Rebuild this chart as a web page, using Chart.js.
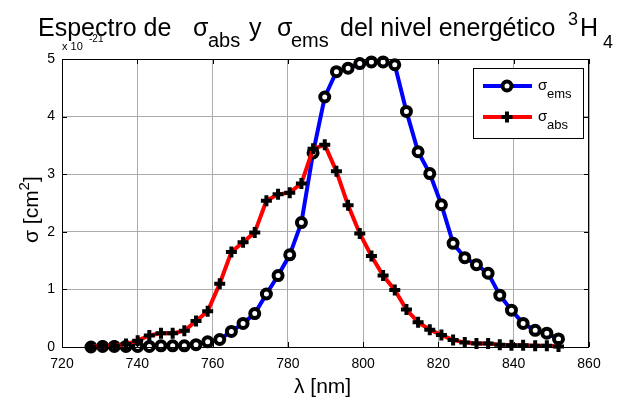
<!DOCTYPE html>
<html>
<head>
<meta charset="utf-8">
<script src="https://cdn.jsdelivr.net/npm/chart.js@4"></script>
<style>
  body { margin: 0; background: #fff; }
  #wrap { width: 623px; height: 400px; }
</style>
</head>
<body>
<div id="wrap"><canvas id="chart" width="623" height="400"></canvas></div>
<script>
// longitud de onda (nm)
const wavelengths = [727.7, 730.8, 733.9, 737.0, 740.1, 743.2, 746.3, 749.4, 752.5, 755.6,
    758.7, 761.9, 765.0, 768.1, 771.2, 774.3, 777.4, 780.5, 783.6, 786.7,
    789.8, 792.9, 796.0, 799.1, 802.2, 805.3, 808.4, 811.5, 814.6, 817.7,
    820.8, 823.9, 827.0, 830.1, 833.2, 836.3, 839.4, 842.5, 845.7, 848.8, 851.9];

// sigma ems (x 1e-21 cm2)
const sigmaEms = [0.0, 0.01, 0.01, 0.01, 0.01, 0.01, 0.02, 0.02, 0.02, 0.04,
    0.09, 0.13, 0.27, 0.41, 0.58, 0.92, 1.24, 1.6, 2.16, 3.37,
    4.34, 4.78, 4.84, 4.92, 4.95, 4.95, 4.9, 4.09, 3.39, 3.01,
    2.47, 1.8, 1.55, 1.43, 1.28, 0.9, 0.64, 0.41, 0.29, 0.24, 0.14];

// sigma abs (x 1e-21 cm2)
const sigmaAbs = [0.0, 0.02, 0.02, 0.05, 0.11, 0.2, 0.24, 0.24, 0.28, 0.45,
    0.62, 1.1, 1.65, 1.82, 1.99, 2.54, 2.65, 2.68, 2.84, 3.44,
    3.51, 3.05, 2.46, 1.97, 1.58, 1.24, 0.99, 0.65, 0.43, 0.3,
    0.21, 0.12, 0.08, 0.06, 0.06, 0.04, 0.03, 0.03, 0.02, 0.02, 0.01];

const xTicks = [720, 740, 760, 780, 800, 820, 840, 860];
const yTicks = [0, 1, 2, 3, 4, 5];

const FONT = "'Liberation Sans', Arial, sans-serif";

function toPoints(ys) {
    return wavelengths.map((x, i) => ({ x: x, y: ys[i] }));
}

// draw text pieces at fixed spots: [text, size, x, baseline]
function drawPieces(ctx, pieces) {
    ctx.fillStyle = '#000';
    ctx.textAlign = 'left';
    ctx.textBaseline = 'alphabetic';
    pieces.forEach(p => {
        ctx.font = p[1] + 'px ' + FONT;
        ctx.fillText(p[0], p[2], p[3]);
    });
}

// draw text pieces one after another: [text, size, dy]
function drawRun(ctx, pieces, x, y) {
    ctx.fillStyle = '#000';
    ctx.textAlign = 'left';
    ctx.textBaseline = 'alphabetic';
    pieces.forEach(p => {
        ctx.font = p[1] + 'px ' + FONT;
        ctx.fillText(p[0], x, y + p[2]);
        x += ctx.measureText(p[0]).width;
    });
}

const matlabDecor = {
    id: 'matlabDecor',
    afterDraw(chart) {
        const ctx = chart.ctx;
        const a = chart.chartArea;
        const xs = chart.scales.x, ys = chart.scales.y;
        ctx.save();

        // box + inner ticks
        ctx.strokeStyle = '#000';
        ctx.lineWidth = 1;
        ctx.strokeRect(a.left + 0.5, a.top + 0.5, a.right - a.left - 1, a.bottom - a.top);
        ctx.beginPath();
        xTicks.forEach(t => {
            const px = Math.round(xs.getPixelForValue(t)) + 0.5;
            ctx.moveTo(px, a.bottom); ctx.lineTo(px, a.bottom - 5);
            ctx.moveTo(px, a.top); ctx.lineTo(px, a.top + 5);
        });
        yTicks.forEach(t => {
            const py = Math.round(ys.getPixelForValue(t)) + 0.5;
            ctx.moveTo(a.left, py); ctx.lineTo(a.left + 5, py);
            ctx.moveTo(a.right, py); ctx.lineTo(a.right - 5, py);
        });
        ctx.stroke();

        // title
        drawPieces(ctx, [
            ['Espectro de', 25, 38, 36],
            ['\u03c3', 25, 193, 36],
            ['abs', 20, 208, 47],
            ['y', 25, 249, 36],
            ['\u03c3', 25, 277, 36],
            ['ems', 20, 291, 47],
            ['del nivel energ\u00e9tico', 25, 340, 36],
            ['3', 18, 568, 25],
            ['H', 25, 580, 36],
            ['4', 18, 603, 48]
        ]);

        // exponent
        drawPieces(ctx, [
            ['x 10', 11, 62, 50],
            ['-21', 10, 89, 42]
        ]);

        // x axis title
        drawPieces(ctx, [['\u03bb [nm]', 21, 294, 393]]);

        // y axis title (rotated)
        ctx.save();
        ctx.translate(38, 243);
        ctx.rotate(-Math.PI / 2);
        drawRun(ctx, [
            ['\u03c3 [cm', 21, 0],
            ['2', 15, -9],
            [']', 21, 0]
        ], 0, 0);
        ctx.restore();

        // legend
        const lx = 473, ly = 68, lw = 110, lh = 70;
        ctx.fillStyle = '#fff';
        ctx.fillRect(lx, ly, lw, lh);
        ctx.strokeStyle = '#000';
        ctx.lineWidth = 1;
        ctx.strokeRect(lx + 0.5, ly + 0.5, lw, lh);

        const rows = [
            { y: 86, color: '#0000ff', marker: 'circle', sub: 'ems' },
            { y: 117, color: '#ff0000', marker: 'cross', sub: 'abs' }
        ];
        rows.forEach(r => {
            ctx.strokeStyle = r.color;
            ctx.lineWidth = 4;
            ctx.beginPath();
            ctx.moveTo(483, r.y); ctx.lineTo(532, r.y);
            ctx.stroke();
            ctx.strokeStyle = '#000';
            if (r.marker === 'circle') {
                ctx.fillStyle = '#fff';
                ctx.lineWidth = 4;
                ctx.beginPath();
                ctx.arc(507, r.y, 4.5, 0, Math.PI * 2);
                ctx.fill();
                ctx.stroke();
            } else {
                ctx.lineWidth = 4;
                ctx.beginPath();
                ctx.moveTo(501.5, r.y); ctx.lineTo(512.5, r.y);
                ctx.moveTo(507, r.y - 5.5); ctx.lineTo(507, r.y + 5.5);
                ctx.stroke();
            }
            drawPieces(ctx, [
                ['\u03c3', 15, 538, r.y + 4],
                [r.sub, 13, 547, r.y + 12]
            ]);
        });

        ctx.restore();
    }
};

new Chart(document.getElementById('chart'), {
    type: 'line',
    data: {
        datasets: [
            {
                label: '\u03c3ems',
                data: toPoints(sigmaEms),
                borderColor: '#0000ff',
                borderWidth: 4,
                pointStyle: 'circle',
                pointRadius: 4.5,
                pointBorderWidth: 4,
                pointBorderColor: '#000',
                pointBackgroundColor: '#fff',
                tension: 0,
                clip: false,
                order: 2
            },
            {
                label: '\u03c3abs',
                data: toPoints(sigmaAbs),
                borderColor: '#ff0000',
                borderWidth: 4,
                pointStyle: 'cross',
                pointRadius: 5.5,
                pointBorderWidth: 4,
                pointBorderColor: '#000',
                pointBackgroundColor: '#000',
                tension: 0,
                clip: false,
                order: 1
            }
        ]
    },
    options: {
        responsive: false,
        animation: false,
        devicePixelRatio: 1,
        layout: { padding: { top: 59, right: 34, left: 0, bottom: 0 } },
        plugins: {
            legend: { display: false },
            title: { display: false },
            tooltip: { enabled: false }
        },
        scales: {
            x: {
                type: 'linear',
                min: 720,
                max: 860,
                afterBuildTicks: s => { s.ticks = xTicks.map(v => ({ value: v })); },
                afterFit: s => { s.height = 53; },
                border: { display: false },
                grid: { color: '#ababab', lineWidth: 1, drawTicks: false },
                ticks: {
                    color: '#000',
                    padding: 9,
                    maxRotation: 0,
                    font: { family: FONT, size: 14 },
                    callback: v => String(v)
                }
            },
            y: {
                type: 'linear',
                min: 0,
                max: 5,
                afterBuildTicks: s => { s.ticks = yTicks.map(v => ({ value: v })); },
                afterFit: s => { s.width = 62; },
                border: { display: false },
                grid: { color: '#ababab', lineWidth: 1, drawTicks: false },
                ticks: {
                    color: '#000',
                    padding: 7,
                    font: { family: FONT, size: 14 },
                    callback: v => String(v)
                }
            }
        }
    },
    plugins: [matlabDecor]
});
</script>
</body>
</html>
